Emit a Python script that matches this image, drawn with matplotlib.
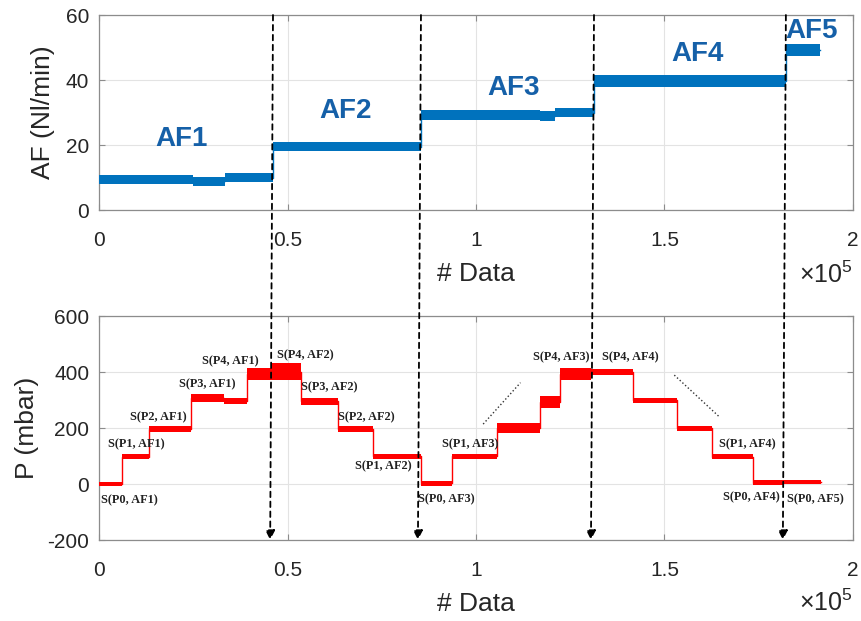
import numpy as np
import matplotlib
matplotlib.use("Agg")
import matplotlib.pyplot as plt
from matplotlib.patches import ConnectionPatch
from matplotlib.ticker import FuncFormatter

plt.rcParams['font.family'] = ['Liberation Sans', 'DejaVu Sans']
plt.rcParams['mathtext.fontset'] = 'custom'
plt.rcParams['mathtext.rm'] = 'Liberation Sans'
plt.rcParams['axes.unicode_minus'] = False

# air flow steps (edges in samples, level in Nl/min, half band width)
af_edges = [0, 25000, 33400, 46150, 85400, 117000, 121000, 131300, 182200, 191200]
af_level = [9.3, 8.8, 9.9, 19.5, 29.3, 28.9, 30.0, 39.6, 49.3]
af_band = [1.4, 1.4, 1.4, 1.4, 1.5, 1.5, 1.5, 1.8, 1.8]
af_names = ['AF1', 'AF2', 'AF3', 'AF4', 'AF5']
af_name_x = [22000, 65500, 110000, 158800, 189000]
af_name_y = [22, 30.5, 37.5, 48, 55]

# pressure steps (edges in samples, level in mbar, half band width)
p_edges = [0, 6000, 13300, 24500, 33200, 39300, 45800, 53500, 63500, 72800,
           85400, 93700, 105700, 117000, 122300, 130500, 141600, 153200,
           162500, 173400, 181400, 191400]
p_level = [0, 98, 196, 306, 297, 393, 401, 296, 196, 100,
           2, 100, 199, 292, 393, 401, 300, 199, 98, 5, 8]
p_band = [8, 9, 10, 14, 12, 22, 30, 12, 10, 9,
          9, 9, 18, 21, 21, 10, 9, 10, 10, 8, 8]

# state labels
s_text = ['S(P0, AF1)', 'S(P1, AF1)', 'S(P2, AF1)', 'S(P3, AF1)', 'S(P4, AF1)',
          'S(P4, AF2)', 'S(P3, AF2)', 'S(P2, AF2)', 'S(P1, AF2)', 'S(P0, AF3)',
          'S(P1, AF3)', 'S(P4, AF3)', 'S(P4, AF4)', 'S(P1, AF4)', 'S(P0, AF4)',
          'S(P0, AF5)']
s_x = [8040, 10000, 15700, 28600, 34700, 54600, 61100, 70800, 75400, 92000,
       98400, 122700, 140800, 172000, 173100, 189900]
s_y = [-57, 143, 240, 357, 437, 461, 345, 238, 65, -55,
       142, 451, 451, 142, -49, -54]

# flow change markers: x on AF plot, x on P plot
chg_top = [46150, 85400, 131300, 182200]
chg_bot = [45400, 84600, 130500, 181400]

# trend guides on P plot
up_x, up_y = [101900, 111800], [214, 362]
dn_x, dn_y = [152600, 164700], [389, 238]

blue = '#0072BD'
txt_blue = '#1560A8'
dark = '#262626'
frame = '#8c8c8c'

fig = plt.figure(figsize=(8.61, 6.21), dpi=100)
ax1 = fig.add_axes([0.115, 0.6618, 0.8757, 0.314])
ax2 = fig.add_axes([0.115, 0.1304, 0.8757, 0.3607])


def draw_steps(ax, edges, level, band, color, lw):
    xs, ys = [], []
    for i, lv in enumerate(level):
        xs += [edges[i], edges[i + 1]]
        ys += [lv, lv]
        ax.fill_between([edges[i], edges[i + 1]], lv - band[i], lv + band[i],
                        color=color, lw=0, zorder=3)
    ax.plot(xs, ys, color=color, lw=lw, zorder=3)


draw_steps(ax1, af_edges, af_level, af_band, blue, 1.0)
draw_steps(ax2, p_edges, p_level, p_band, 'red', 1.0)

for name, x, y in zip(af_names, af_name_x, af_name_y):
    ax1.text(x, y, name, color=txt_blue, fontsize=20, fontweight='bold',
             ha='center', va='center')

for t, x, y in zip(s_text, s_x, s_y):
    ax2.text(x, y, t, fontsize=8.8, fontweight='bold', ha='center', va='center',
             family=['Liberation Serif', 'DejaVu Serif'], color='#222222', zorder=5)

ax2.plot(up_x, up_y, ls=':', color='#333333', lw=1.0)
ax2.plot(dn_x, dn_y, ls=':', color='#333333', lw=1.0)

fmt = FuncFormatter(lambda v, pos: f'{v / 1e5:g}')
for ax in (ax1, ax2):
    ax.set_xlim(0, 200000)
    ax.set_xticks(np.arange(0, 200001, 50000))
    ax.xaxis.set_major_formatter(fmt)
    ax.grid(True, color='#e3e3e3', lw=0.8, zorder=0)
    ax.set_axisbelow(True)
    for s in ax.spines.values():
        s.set_color(frame)
        s.set_linewidth(0.9)
    ax.tick_params(direction='in', length=4, color=frame, labelsize=15,
                   labelcolor=dark, top=True, right=True)
    ax.tick_params(axis='x', pad=15)
    ax.tick_params(axis='y', pad=7)
    ax.set_xlabel('# Data', fontsize=19, color=dark, labelpad=9)

ax1.set_ylim(0, 60)
ax1.set_yticks([0, 20, 40, 60])
ax1.set_ylabel('AF (Nl/min)', fontsize=19, color=dark, labelpad=8)

ax2.set_ylim(-200, 600)
ax2.set_yticks([-200, 0, 200, 400, 600])
ax2.set_ylabel('P (mbar)', fontsize=19, color=dark, labelpad=6)

fig.text(0.928, 0.557, r'$\times10^{5}$', fontsize=18, color=dark, va='center')
fig.text(0.928, 0.029, r'$\times10^{5}$', fontsize=18, color=dark, va='center')

for xt, xb in zip(chg_top, chg_bot):
    con = ConnectionPatch(xyA=(xt, 60), coordsA=ax1.transData,
                          xyB=(xb, -200), coordsB=ax2.transData,
                          arrowstyle='-|>', mutation_scale=14, color='black',
                          lw=1.3, linestyle=(0, (3, 2.5)), zorder=10)
    fig.add_artist(con)

fig.savefig('out.png', dpi=100)
